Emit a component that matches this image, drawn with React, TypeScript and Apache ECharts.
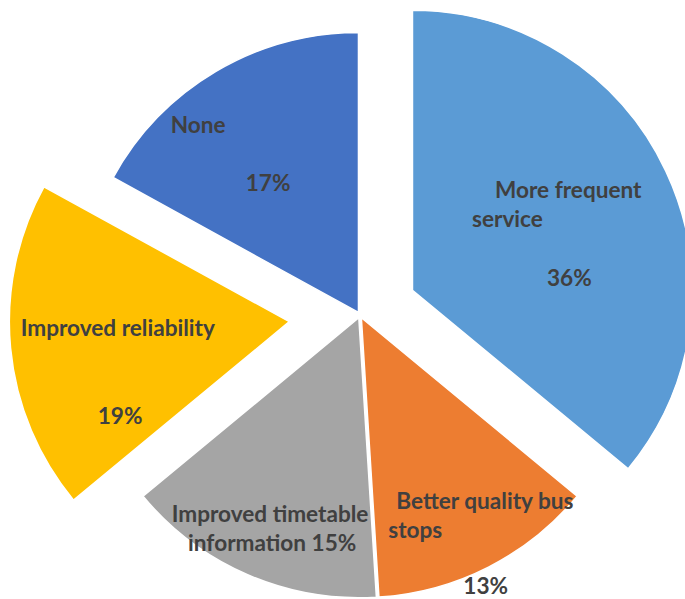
import React, { useEffect, useRef } from "react";
import * as echarts from "echarts";

// Preferred improvement, share of respondents (%), clockwise from 12 o'clock
const categories = [
  "More frequent service",
  "Better quality bus stops",
  "Improved timetable information",
  "Improved reliability",
  "None",
];
const shares = [36, 13, 15, 19, 17];

const sliceColors = ["#5B9BD5", "#ED7D31", "#A5A5A5", "#FFC000", "#4472C4"];
// how far each slice is pulled out from the centre, px
const explode = [58, 3, 3, 71, 3];

const CENTER = [360, 315];
const RADIUS = 280;
const LINE_H = 29.3;
const FONT_SIZE = 22.6;
const FONT = "Lato, 'Noto Sans', sans-serif";

// label rows per slice: [text, left indent px, line height?]; a row with empty text is a spacer;
// "%" is replaced by the share
type Row = [string, number, number?];
const labelRows: Row[][] = [
  [["More frequent", 23], ["service", 0], ["", 0], ["%", 75]],
  [["Better quality bus", 8], ["stops", 0], ["", 0, 30.9], ["%", 75, 20]],
  [["Improved timetable", 0], ["information %", 16.4]],
  [["Improved reliability", 0], ["", 0], ["", 0], ["%", 77]],
  [["None", 0], ["", 0], ["%", 75]],
];
// top-left corner of each label block
const labelAnchors = [
  [472, 174.8],
  [388.3, 485.6],
  [171.7, 498.8],
  [20.7, 313.1],
  [170.7, 109.4],
];

const total = shares.reduce((a, b) => a + b, 0);

function midAngle(i: number): number {
  let before = 0;
  for (let j = 0; j < i; j++) before += shares[j];
  return ((before + shares[i] / 2) / total) * Math.PI * 2;
}

function buildLabel(i: number) {
  const rich: Record<string, any> = {};
  const parts: string[] = [];
  labelRows[i].forEach((row, k) => {
    const key = "r" + k;
    const lh = row[2] ?? LINE_H;
    if (row[0] === "") {
      rich[key] = { lineHeight: lh, fontSize: FONT_SIZE };
      parts.push(`{${key}| }`);
    } else {
      const text = row[0].replace("%", `${shares[i]}%`);
      rich[key] = {
        fontFamily: FONT,
        fontWeight: "bold",
        fontSize: FONT_SIZE,
        color: "#404040",
        lineHeight: lh,
        padding: [0, 0, 0, row[1]],
      };
      parts.push(`{${key}|${text}}`);
    }
  });
  return { text: parts.join("\n"), rich };
}

export default function App() {
  const ref = useRef<HTMLDivElement>(null);

  useEffect(() => {
    document.body.style.margin = "0";
    if (!ref.current) return;
    const chart = echarts.init(ref.current, undefined, { renderer: "svg" });

    const series = categories.map((name, i) => {
      const a = midAngle(i);
      const cx = CENTER[0] + explode[i] * Math.sin(a);
      const cy = CENTER[1] - explode[i] * Math.cos(a);
      const lbl = buildLabel(i);
      return {
        type: "pie",
        name,
        center: [cx, cy],
        radius: RADIUS,
        startAngle: 90,
        clockwise: true,
        silent: true,
        avoidLabelOverlap: false,
        emphasis: { disabled: true },
        labelLine: { show: false },
        data: categories.map((n, j) => ({
          name: n,
          value: shares[j],
          itemStyle:
            j === i
              ? { color: sliceColors[j], borderColor: "#ffffff", borderWidth: 1.5 }
              : { color: "rgba(0,0,0,0)", borderWidth: 0 },
          label:
            j === i
              ? {
                  show: true,
                  position: "inside",
                  formatter: () => lbl.text,
                  rich: lbl.rich,
                  align: "left",
                  lineHeight: LINE_H,
                  fontFamily: FONT,
                  fontWeight: "bold",
                  fontSize: FONT_SIZE,
                  color: "#404040",
                }
              : { show: false },
        })),
        labelLayout: (p: any) =>
          p.dataIndex === i
            ? {
                x: labelAnchors[i][0],
                y: labelAnchors[i][1],
                align: "left",
                verticalAlign: "top",
              }
            : {},
      };
    });

    chart.setOption({
      animation: false,
      backgroundColor: "#ffffff",
      series,
    });

    return () => chart.dispose();
  }, []);

  return <div ref={ref} style={{ width: 685, height: 599 }} />;
}
